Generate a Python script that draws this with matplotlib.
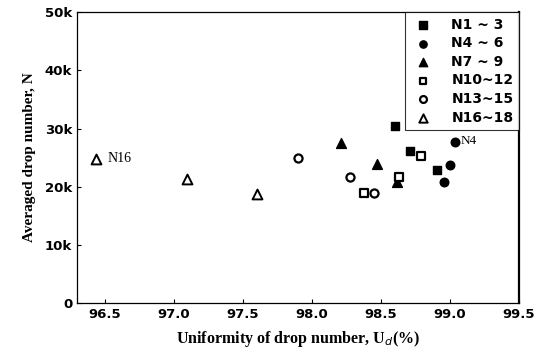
import matplotlib
matplotlib.use("Agg")
import matplotlib.pyplot as plt

# Data (Uniformity %, averaged drop number)
groups = ["N1 ~ 3", "N4 ~ 6", "N7 ~ 9", "N10~12", "N13~15", "N16~18"]
u_n1_3 = [98.60, 98.71, 98.91]
n_n1_3 = [30400, 26100, 22850]
u_n4_6 = [99.04, 99.00, 98.96]
n_n4_6 = [27600, 23800, 20800]
u_n7_9 = [98.21, 98.47, 98.62]
n_n7_9 = [27500, 23900, 20800]
u_n10_12 = [98.79, 98.63, 98.38]
n_n10_12 = [25300, 21700, 19000]
u_n13_15 = [97.90, 98.28, 98.45]
n_n13_15 = [25000, 21600, 18950]
u_n16_18 = [96.44, 97.10, 97.60]
n_n16_18 = [24800, 21400, 18800]

xticks = [96.5, 97.0, 97.5, 98.0, 98.5, 99.0, 99.5]
yticks = [0, 10000, 20000, 30000, 40000, 50000]
yticklabels = ["0", "10k", "20k", "30k", "40k", "50k"]

fig = plt.figure(figsize=(5.48, 3.57), dpi=100)
ax = fig.add_axes([0.1405, 0.151, 0.8065, 0.815])

sans = "DejaVu Sans"
serif = "Liberation Serif"

ax.scatter(u_n1_3, n_n1_3, marker="s", s=38, facecolor="black", edgecolor="black", label=groups[0], zorder=3)
ax.scatter(u_n4_6, n_n4_6, marker="o", s=38, facecolor="black", edgecolor="black", label=groups[1], zorder=3)
ax.scatter(u_n7_9, n_n7_9, marker="^", s=50, facecolor="black", edgecolor="black", label=groups[2], zorder=3)
ax.scatter(u_n10_12, n_n10_12, marker="s", s=30, facecolor="white", edgecolor="black", linewidths=1.6, label=groups[3], zorder=3)
ax.scatter(u_n13_15, n_n13_15, marker="o", s=34, facecolor="white", edgecolor="black", linewidths=1.6, label=groups[4], zorder=3)
ax.scatter(u_n16_18, n_n16_18, marker="^", s=50, facecolor="white", edgecolor="black", linewidths=1.4, label=groups[5], zorder=3)

ax.annotate("N16", (u_n16_18[0], n_n16_18[0]), xytext=(8, 0), textcoords="offset points",
            fontfamily=serif, fontsize=10, va="center", ha="left")
ax.annotate("N4", (u_n4_6[0], n_n4_6[0]), xytext=(4, 1), textcoords="offset points",
            fontfamily=serif, fontsize=9.5, va="center", ha="left")

ax.set_xlim(96.3, 99.5)
ax.set_ylim(0, 50000)
ax.set_xticks(xticks)
ax.set_xticklabels([f"{v:.1f}" for v in xticks], fontfamily=sans, fontweight="bold", fontsize=9.5)
ax.set_yticks(yticks)
ax.set_yticklabels(yticklabels, fontfamily=sans, fontweight="bold", fontsize=9.5)
ax.tick_params(direction="in", length=3, width=0.8)

for sp in ax.spines.values():
    sp.set_linewidth(0.9)
ax.spines["right"].set_linewidth(1.6)

ax.set_xlabel("Uniformity of drop number, U$_d$(%)", fontfamily=serif, fontweight="bold", fontsize=11.5, labelpad=6)
ax.set_ylabel("Averaged drop number, N", fontfamily=serif, fontweight="bold", fontsize=11, labelpad=6)

leg = ax.legend(loc="upper right", prop={"family": sans, "weight": "bold", "size": 10},
                frameon=True, fancybox=False, edgecolor="black", borderaxespad=0.0,
                handletextpad=1.1, labelspacing=0.33, borderpad=0.4, handlelength=1.8,
                markerscale=0.85)
leg.get_frame().set_linewidth(0.8)

fig.savefig("out.png", dpi=100)
